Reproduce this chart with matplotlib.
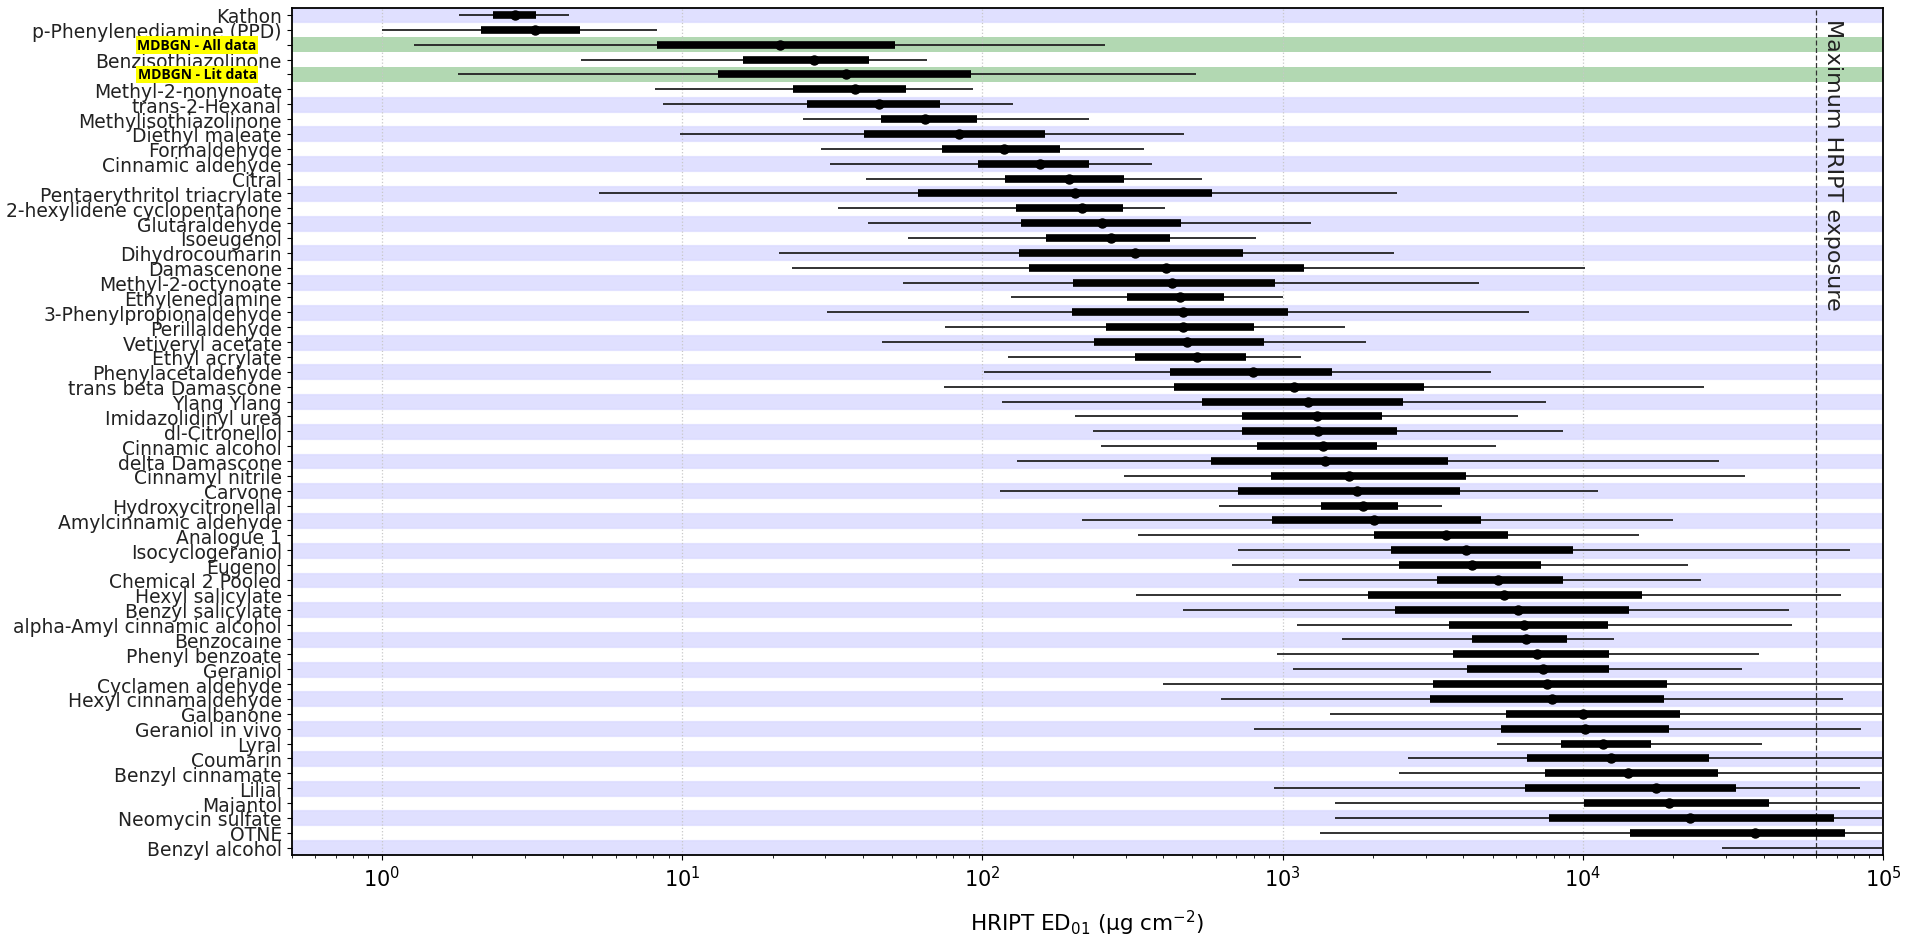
import matplotlib
matplotlib.use("Agg")
import matplotlib.pyplot as plt
import matplotlib.transforms as mtransforms

# chemicals, top to bottom
names = [
    "Kathon", "p-Phenylenediamine (PPD)", "MDBGN - All data", "Benzisothiazolinone",
    "MDBGN - Lit data", "Methyl-2-nonynoate", "trans-2-Hexanal", "Methylisothiazolinone",
    "Diethyl maleate", "Formaldehyde", "Cinnamic aldehyde", "Citral",
    "Pentaerythritol triacrylate", "2-hexylidene cyclopentanone", "Glutaraldehyde", "Isoeugenol",
    "Dihydrocoumarin", "Damascenone", "Methyl-2-octynoate", "Ethylenediamine",
    "3-Phenylpropionaldehyde", "Perillaldehyde", "Vetiveryl acetate", "Ethyl acrylate",
    "Phenylacetaldehyde", "trans beta Damascone", "Ylang Ylang", "Imidazolidinyl urea",
    "dl-Citronellol", "Cinnamic alcohol", "delta Damascone", "Cinnamyl nitrile",
    "Carvone", "Hydroxycitronellal", "Amylcinnamic aldehyde", "Analogue 1",
    "Isocyclogeraniol", "Eugenol", "Chemical 2 Pooled", "Hexyl salicylate",
    "Benzyl salicylate", "alpha-Amyl cinnamic alcohol", "Benzocaine", "Phenyl benzoate",
    "Geraniol", "Cyclamen aldehyde", "Hexyl cinnamaldehyde", "Galbanone",
    "Geraniol in vivo", "Lyral", "Coumarin", "Benzyl cinnamate",
    "Lilial", "Majantol", "Neomycin sulfate", "OTNE", "Benzyl alcohol",
]
highlighted = ["MDBGN - All data", "MDBGN - Lit data"]

# percentiles of ED01 (ug/cm2): low / q1 / median / q3 / high
low = [1.81, 1.0, 1.28, 4.6, 1.79, 8.13, 8.65, 25.2, 9.83, 28.9, 31.1, 40.9,
       5.27, 33, 41.7, 56.5, 21, 23.2, 54.5, 124, 30.4, 75.2, 46.3, 122,
       101, 74.3, 116, 203, 233, 248, 130, 295, 114, 612, 214, 329,
       712, 677, 1137, 325, 467, 1114, 1574, 960, 1082, 400, 625, 1439,
       802, 5175, 2624, 2432, 935, 1496, 1496, 1329, 29100]
q1 = [2.34, 2.13, 8.22, 15.9, 13.2, 23.3, 26.1, 45.8, 40.4, 73.5, 96.7, 119,
      60.9, 129, 134, 163, 132, 143, 201, 302, 198, 257, 236, 322,
      423, 433, 540, 731, 731, 824, 576, 912, 712, 1340, 924, 2021,
      2290, 2443, 3275, 1921, 2375, 3575, 4266, 3705, 4100, 3170, 3085, 5538,
      5320, 8450, 6511, 7480, 6435, 10100, 7690, 14300, 150000]
med = [2.77, 3.23, 21.2, 27.5, 35.0, 37.6, 45.2, 64.3, 83.4, 118, 156, 194,
       204, 214, 251, 268, 323, 408, 429, 455, 467, 467, 481, 517,
       799, 1094, 1218, 1299, 1315, 1360, 1384, 1664, 1765, 1857, 2021, 3500,
       4090, 4286, 5205, 5465, 6070, 6370, 6450, 7023, 7390, 7570, 7870, 9980,
       10200, 11700, 12450, 14100, 17500, 19300, 22800, 37400, 200000]
q3 = [3.26, 4.58, 51.2, 41.9, 91.6, 55.7, 72.4, 96.2, 162, 181, 227, 295,
      583, 293, 458, 421, 738, 1180, 943, 638, 1042, 805, 867, 757,
      1461, 2966, 2525, 2148, 2400, 2068, 3565, 4085, 3900, 2430, 4580, 5650,
      9300, 7260, 8610, 15700, 14200, 12100, 8830, 12250, 12200, 19100, 18700, 21000,
      19400, 16900, 26300, 28200, 32400, 41600, 68700, 74600, 400000]
high = [4.2, 8.22, 256, 65.5, 515, 92.8, 126, 227, 470, 345, 367, 540,
        2400, 406, 1245, 815, 2340, 10200, 4510, 1003, 6620, 1618, 1896, 1152,
        4930, 25400, 7520, 6100, 8610, 5130, 28400, 34700, 11200, 3395, 19900, 15400,
        77600, 22400, 24800, 72300, 48500, 49800, 12700, 38700, 34000, 120000, 73500, 120000,
        84700, 39500, 120000, 120000, 83700, 120000, 120000, 120000, 1000000]

max_exposure = 6.0e4

fig = plt.figure(figsize=(19.05, 9.37), dpi=100)
ax = fig.add_axes([0.1531, 0.0864, 0.8354, 0.9045])

n = len(names)
rows = list(range(n))

# background bands
for i, name in enumerate(names):
    if name in highlighted:
        ax.axhspan(i - 0.52, i + 0.52, color="green", alpha=0.3, lw=0, zorder=0)
    elif i % 2 == 0:
        ax.axhspan(i - 0.5, i + 0.5, facecolor=(0, 0, 1, 0.12),
                   edgecolor=(0, 0, 1, 0.05), lw=1, zorder=0)

ax.hlines(rows, low, high, color="#222222", lw=1.3, zorder=3)
ax.hlines(rows, q1, q3, color="black", lw=5.5, zorder=4)
ax.plot(med, rows, "o", color="black", ms=6.5, zorder=5)

ax.axvline(max_exposure, color="#333333", lw=0.9, ls=(0, (4, 2)), zorder=2)
trans = mtransforms.blended_transform_factory(ax.transData, ax.transAxes)
ax.text(max_exposure * 1.05, 0.988, "Maximum HRIPT exposure", transform=trans,
        rotation=270, ha="left", va="top", fontsize=16, color="#222222")

ax.set_xscale("log")
ax.set_xlim(0.5, 1e5)
ax.set_ylim(n - 0.5, -0.5)
ax.set_yticks(rows)
ax.set_yticklabels(["" if nm in highlighted else nm for nm in names],
                   fontsize=13.5, color="#222222")
ax.tick_params(axis="x", labelsize=15)
ax.grid(axis="x", which="major", color="#c8c8c8", ls=":", lw=0.9)
ax.set_axisbelow(True)
ax.set_xlabel(r"HRIPT ED$_{01}$ ($\mathrm{\mu}$g cm$^{-2}$)", fontsize=15.5,
              labelpad=13)

for sp in ax.spines.values():
    sp.set_linewidth(1.3)

# yellow-highlighted labels for the MDBGN rows
ytrans = mtransforms.blended_transform_factory(ax.transAxes, ax.transData)
for i, name in enumerate(names):
    if name in highlighted:
        ax.text(-0.022, i, name, transform=ytrans, ha="right", va="center",
                fontsize=10, fontweight="bold", family="Open Sans",
                bbox=dict(facecolor="yellow", edgecolor="none", pad=1.3),
                clip_on=False, zorder=10)

fig.savefig("out.png", dpi=100)
